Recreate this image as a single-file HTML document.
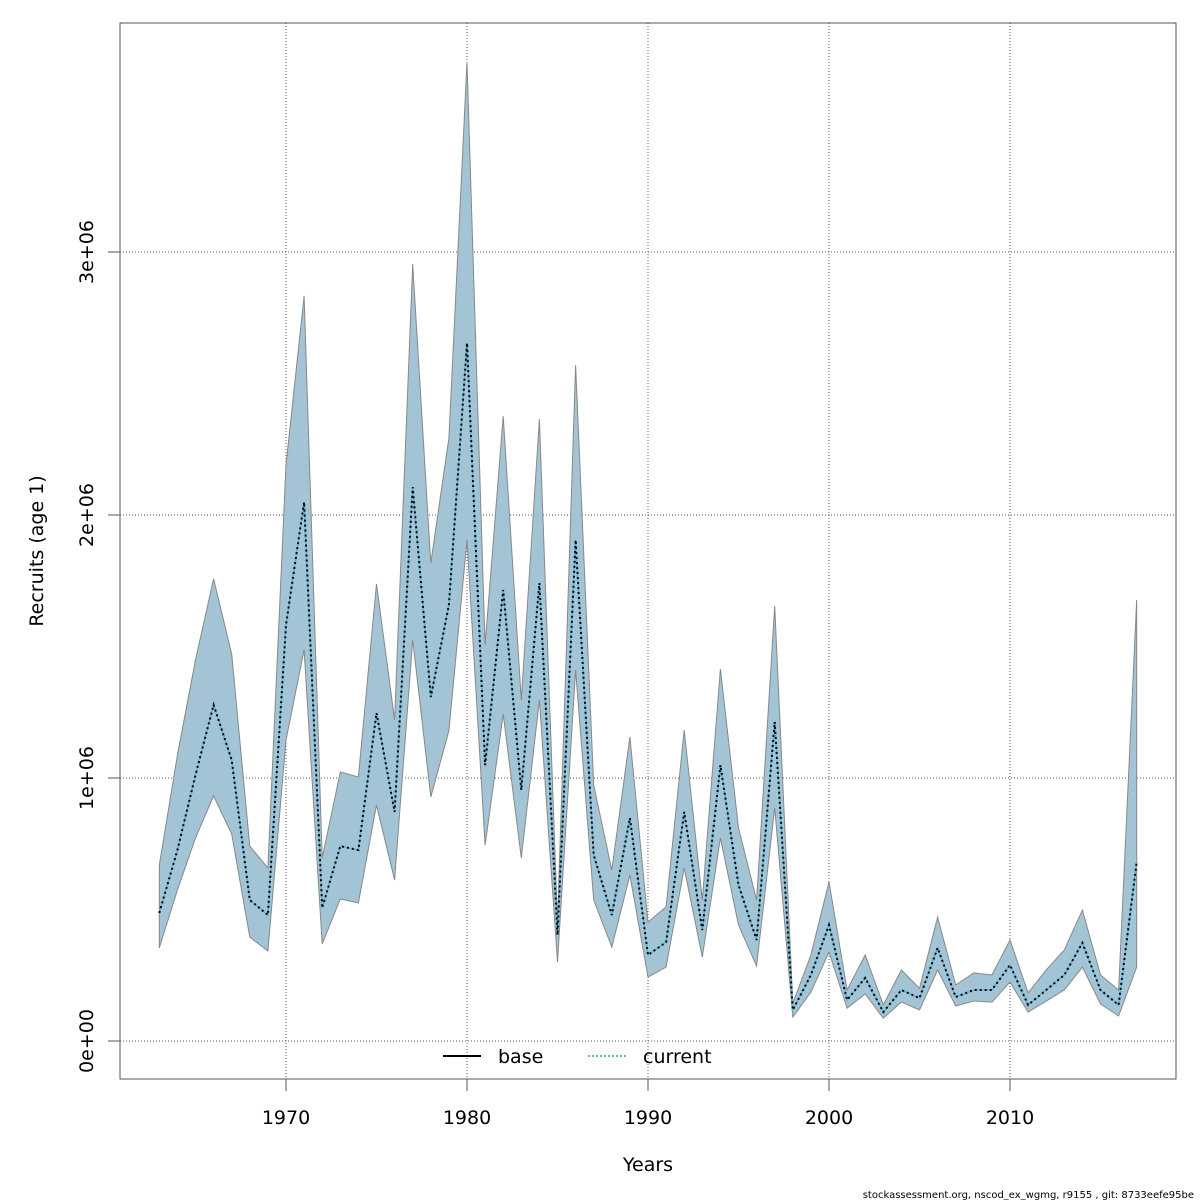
<!DOCTYPE html>
<html><head><meta charset="utf-8"><style>
html,body{margin:0;background:#fff;overflow:hidden;width:1200px;height:1200px;}
svg{display:block;}
svg text{font-family:"DejaVu Sans","Liberation Sans",sans-serif;fill:#000;}
</style></head><body>
<svg id="chart" width="1200" height="1200" viewBox="0 0 1200 1200" xmlns="http://www.w3.org/2000/svg">
<rect width="1200" height="1200" fill="#fff"/>
<g id="grid"></g>
<g id="series"></g>
<rect x="120" y="23" width="1056" height="1056" fill="none" stroke="#555" stroke-width="1"/>
<g id="axes"></g>
<text x="648" y="1171" font-size="19" text-anchor="middle">Years</text>
<text x="43" y="551" font-size="19" text-anchor="middle" transform="rotate(-90 43 551)">Recruits (age 1)</text>
<g>
<line x1="443" y1="1056" x2="481" y2="1056" stroke="#000" stroke-width="2"/>
<text x="498" y="1063" font-size="19">base</text>
<line x1="588" y1="1056" x2="626" y2="1056" stroke="#5fb6d9" stroke-width="2" stroke-dasharray="2,2"/>
<text x="643" y="1063" font-size="19">current</text>
</g>
<text x="1194" y="1198" font-size="10" text-anchor="end">stockassessment.org, nscod_ex_wgmg, r9155 , git: 8733eefe95be</text>
</svg>
<script>
const years = [];
for (let y = 1963; y <= 2017; y++) years.push(y);
const recruitsMid = [0.487,0.726,1.011,1.278,1.068,0.536,0.479,1.582,2.049,0.506,0.741,0.726,1.247,0.871,2.106,1.308,1.658,2.654,1.049,1.715,0.954,1.741,0.403,1.905,0.707,0.479,0.848,0.327,0.376,0.871,0.422,1.049,0.593,0.384,1.213,0.118,0.251,0.441,0.156,0.240,0.110,0.194,0.163,0.354,0.167,0.194,0.194,0.289,0.137,0.194,0.251,0.373,0.194,0.137,0.681];
const recruitsLow = [0.354,0.574,0.772,0.932,0.787,0.395,0.342,1.144,1.487,0.369,0.540,0.525,0.897,0.612,1.525,0.928,1.179,1.905,0.745,1.243,0.696,1.297,0.300,1.411,0.536,0.357,0.631,0.243,0.281,0.658,0.319,0.772,0.441,0.285,0.886,0.091,0.186,0.338,0.125,0.179,0.087,0.148,0.118,0.270,0.133,0.152,0.148,0.224,0.110,0.152,0.194,0.281,0.141,0.095,0.281];
const recruitsHigh = [0.669,1.087,1.449,1.757,1.471,0.741,0.658,2.190,2.833,0.696,1.023,1.004,1.738,1.221,2.954,1.817,2.293,3.722,1.506,2.376,1.297,2.365,0.450,2.570,0.973,0.650,1.156,0.452,0.510,1.183,0.536,1.414,0.810,0.536,1.654,0.144,0.327,0.605,0.194,0.327,0.137,0.270,0.200,0.471,0.213,0.259,0.251,0.384,0.183,0.270,0.346,0.498,0.251,0.194,1.677];
const xTicks = [1970,1980,1990,2000,2010];
const yTicks = [0,1,2,3];
const yTickLabels = ["0e+00","1e+06","2e+06","3e+06"];

const NS = "http://www.w3.org/2000/svg";
function xs(yr){ return 286 + (yr - 1970) * 18.1; }
function ys(v){ return 1041 - v * 263; }
function mk(tag, attrs, parent){ const e = document.createElementNS(NS, tag); for (const k in attrs) e.setAttribute(k, attrs[k]); parent.appendChild(e); return e; }

const grid = document.getElementById('grid');
const axes = document.getElementById('axes');
const series = document.getElementById('series');

xTicks.forEach(t => {
  const g = mk('line', {x1: xs(t), x2: xs(t), y1: 23, y2: 1079, stroke: '#555', 'stroke-dasharray': '1,2'}, grid);
  
  
  const tk = mk('line', {x1: xs(t), x2: xs(t), y1: 1079, y2: 1091, stroke: '#555'}, axes);
  
  
  const lb = mk('text', {x: xs(t), y: 1124, 'font-size': 19, 'text-anchor': 'middle'}, axes);
  lb.textContent = t;
  
  
});
yTicks.forEach((t, i) => {
  const g = mk('line', {x1: 120, x2: 1176, y1: ys(t), y2: ys(t), stroke: '#555', 'stroke-dasharray': '1,2'}, grid);
  
  
  const tk = mk('line', {x1: 108, x2: 120, y1: ys(t), y2: ys(t), stroke: '#555'}, axes);
  
  
  const lb = mk('text', {x: 93, y: ys(t), 'font-size': 19, 'text-anchor': 'middle', transform: 'rotate(-90 93 ' + ys(t) + ')'}, axes);
  lb.textContent = yTickLabels[i];
  
  
});

let d = '';
years.forEach((yr, i) => { d += (i ? 'L' : 'M') + xs(yr) + ',' + ys(recruitsHigh[i]); });
for (let i = years.length - 1; i >= 0; i--) d += 'L' + xs(years[i]) + ',' + ys(recruitsLow[i]);
const band = mk('path', {d: d + 'Z', fill: '#a3c4d4', stroke: '#888', 'stroke-width': 1}, series);



const pts = years.map((yr, i) => xs(yr) + ',' + ys(recruitsMid[i])).join(' ');
const cur = mk('polyline', {points: pts, fill: 'none', stroke: '#5fb6d9', 'stroke-width': 1.5}, series);


const base = mk('polyline', {points: pts, fill: 'none', stroke: '#000', 'stroke-width': 2, 'stroke-dasharray': '2,3'}, series);


</script>
</body></html>
